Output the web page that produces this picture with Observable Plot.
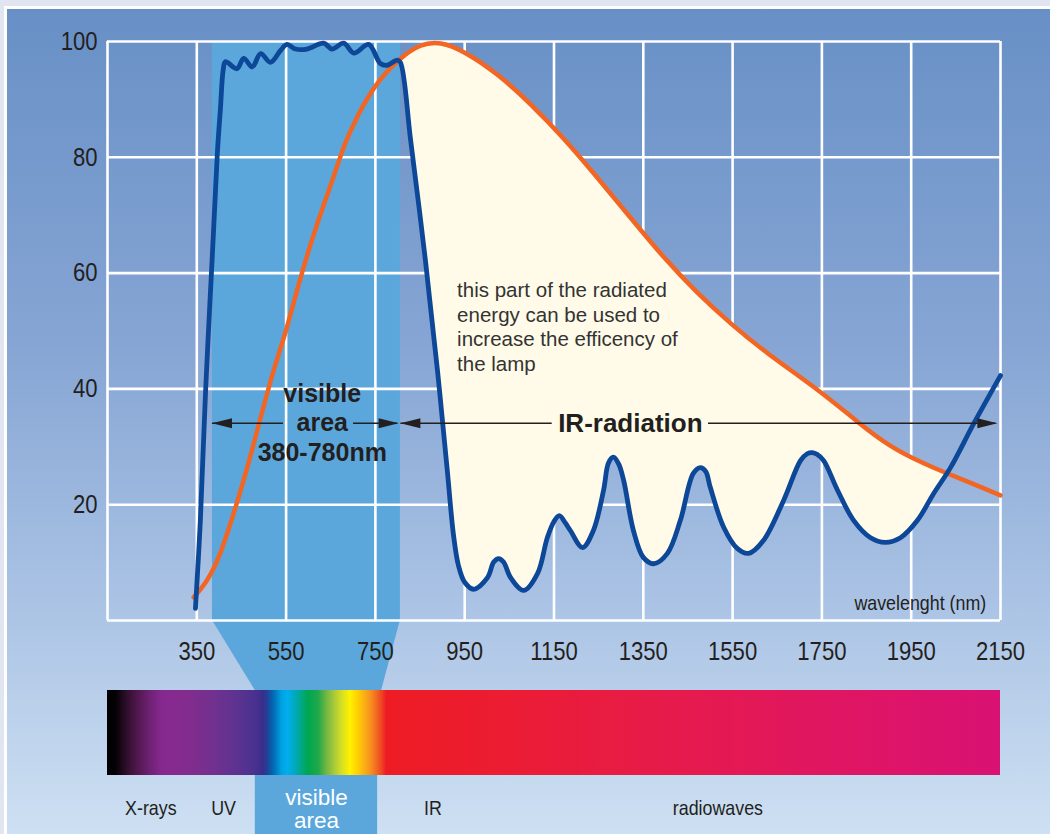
<!DOCTYPE html>
<html>
<head>
<meta charset="utf-8">
<script src="https://cdn.jsdelivr.net/npm/d3@7"></script>
<script src="https://cdn.jsdelivr.net/npm/@observablehq/plot@0.6"></script>
<style>
html,body{margin:0;padding:0;background:#e1e4f1;}
#frame{position:relative;width:1050px;height:834px;overflow:hidden;background:#e1e4f1;}
#panel{position:absolute;left:4px;top:6px;right:-10px;bottom:-10px;border-left:3px solid #fff;border-top:3px solid #fff;
  background:linear-gradient(to bottom,#6890c6 0%,#86a5d4 40%,#a9c2e4 70%,#cfe1f3 100%);}
#chart{position:absolute;left:0;top:0;}
</style>
</head>
<body>
<div id="frame"><div id="panel"></div><div id="chart"></div></div>
<script>
// ---- data ----
const xTicks = [350, 550, 750, 950, 1150, 1350, 1550, 1750, 1950, 2150];
const gridX = [150, 350, 550, 750, 950, 1150, 1350, 1550, 1750, 1950, 2150];
const yTicks = [20, 40, 60, 80, 100];
const gridY = [0, 20, 40, 60, 80, 100];

// blue curve (transmission of the glass / filter)
const blueWavelength = [347, 358, 370, 385, 396, 403, 409, 414, 440, 455, 474, 493, 515, 537, 552, 571, 597, 634, 653, 679, 702, 735, 761, 776, 799, 806,
  829, 862, 889, 911, 925, 936, 950, 970, 1001, 1015, 1026, 1037, 1053, 1082, 1113, 1135, 1150, 1162, 1175, 1187, 1214, 1238, 1261, 1272, 1283, 1295, 1306, 1328, 1350, 1373,
  1404, 1433, 1462, 1478, 1490, 1500, 1530, 1561, 1586, 1619, 1664, 1702, 1717, 1729, 1739, 1754, 1785, 1821, 1859, 1892, 1926, 1964, 2000, 2038, 2090, 2150];
const blueValue = [2.1, 17.3, 40.2, 63.4, 80.7, 88.5, 95.0, 96.5, 95.3, 97.1, 95.6, 97.9, 96.4, 98.4, 99.5, 98.7, 98.7, 99.7, 98.7, 99.7, 98.0, 99.5, 96.2, 95.9, 96.8, 96.4,
  82.9, 62.2, 43.2, 25.9, 14.7, 9.5, 6.6, 5.4, 7.4, 10.1, 10.7, 10.1, 7.4, 5.2, 8.1, 14.3, 17.1, 18.1, 16.9, 15.5, 12.6, 15.5, 22.5, 27.2, 28.2, 27.0, 24.2, 15.5, 10.9, 9.8,
  11.6, 17.3, 25.4, 26.4, 25.7, 23.0, 16.1, 12.4, 11.6, 13.8, 20.7, 27.6, 28.8, 29.0, 28.7, 27.6, 22.5, 17.3, 14.3, 13.5, 14.3, 17.3, 21.9, 26.4, 34.0, 42.3];

// orange curve (radiated energy of the lamp)
const orangeWavelength = [343, 370, 399, 437, 466, 497, 526, 549, 578, 616, 654, 683, 705, 717, 761, 806, 851, 896, 947, 1023, 1097, 1171,
  1247, 1321, 1395, 1471, 1545, 1620, 1754, 1829, 1904, 1978, 2030, 2090, 2150];
const orangeValue = [4.0, 6.4, 10.4, 19.5, 27.1, 36.3, 44.4, 49.6, 58.2, 67.9, 76.0, 82.9, 86.2, 88.3, 93.8, 97.2, 99.6, 100, 98.4, 94.5, 89.3, 83.4,
  76.5, 69.6, 62.7, 56.5, 51.3, 46.5, 39.2, 34.3, 29.9, 27.1, 25.4, 23.6, 21.6];

const visibleBand = [385, 806];
const creamRange = [806, 2030];

// electromagnetic spectrum bar
const spectrumNm = [150, 170, 184, 202, 224, 246, 273, 325, 381, 437, 481, 499, 508, 517, 528, 540, 553, 569, 584, 600, 623, 640, 658, 676, 694, 710, 726, 741, 755, 766, 775, 1030, 1366, 1702, 2150];
const spectrumColor = ["#000000", "#050205", "#1e0a1c", "#3c1239", "#561a55", "#6e2274", "#86298f", "#842b8e", "#74308f", "#5e3391", "#4a3190", "#3a2e8a",
  "#233f96", "#0b5aa8", "#0079c1", "#00a0e0", "#00aeef", "#00a9c4", "#00a98a", "#00a651", "#1fa84a", "#6db544", "#a6c93a", "#d7df23", "#fff200", "#ffd200",
  "#fbb016", "#f78e1e", "#f26522", "#ef4123", "#ed1c24", "#ec1c32", "#e71b48", "#e1175e", "#d91173"];

const bandLabels = ["X-rays", "UV", "IR", "radiowaves"];
const bandLabelNm = [247, 410, 879, 1517];

const paragraph = "this part of the radiated\nenergy can be used to\nincrease the efficency of\nthe lamp";

// ---- build ----
const blue = blueWavelength.map((x, i) => ({x, y: blueValue[i]}));
const orange = orangeWavelength.map((x, i) => ({x, y: orangeValue[i]}));
const cream = [
  ...blue.filter(d => d.x >= creamRange[0] && d.x <= 2000),
  ...orange.filter(d => d.x >= creamRange[0] && d.x <= creamRange[1]).reverse()
];
const labels = bandLabels.map((t, i) => ({t, x: bandLabelNm[i]}));

const bandColor = "#5ba7dc";
const ink = "#231f20";
const narrow = "'Liberation Sans Narrow','Liberation Sans',Arial,sans-serif";
const sans = "'Liberation Sans',Arial,Helvetica,sans-serif";

const barTop = -12.09, barBottom = -26.77, boxBottom = -37;
const funnel = [
  {y: 0, x1: visibleBand[0], x2: visibleBand[1]},
  {y: barTop, x1: 481, x2: 764}
];

const arrowY = 34.07;
const arrowLines = [[385, 544], [701, 800], [807, 1146], [1496, 2140]];
const arrowHeads = [{x: 384, a: 180}, {x: 802, a: 0}, {x: 806, a: 180}, {x: 2143, a: 0}];
const headSymbol = {
  draw(ctx, size) {
    const r = Math.sqrt(size / Math.PI);
    ctx.moveTo(0, 0);
    ctx.lineTo(-2 * r, -0.5 * r);
    ctx.lineTo(-2 * r, 0.5 * r);
    ctx.closePath();
  }
};

function spectrumDefs() {
  const ns = "http://www.w3.org/2000/svg";
  const defs = document.createElementNS(ns, "defs");
  const lg = document.createElementNS(ns, "linearGradient");
  lg.setAttribute("id", "spectrum");
  lg.setAttribute("x1", "0"); lg.setAttribute("x2", "1");
  lg.setAttribute("y1", "0"); lg.setAttribute("y2", "0");
  spectrumNm.forEach((nm, i) => {
    const s = document.createElementNS(ns, "stop");
    s.setAttribute("offset", ((nm - 150) / 2000).toFixed(4));
    s.setAttribute("stop-color", spectrumColor[i]);
    lg.appendChild(s);
  });
  defs.appendChild(lg);
  return defs;
}

const chart = Plot.plot({
  width: 1050,
  height: 834,
  marginLeft: 107,
  marginRight: 50,
  marginTop: 41,
  marginBottom: 214,
  x: {domain: [150, 2150]},
  y: {domain: [0, 100]},
  style: {background: "transparent", color: ink, overflow: "visible"},
  marks: [
    spectrumDefs,
    Plot.rect([0], {x1: visibleBand[0], x2: visibleBand[1], y1: 0, y2: 100, fill: bandColor}),
    Plot.areaX(funnel, {y: "y", x1: "x1", x2: "x2", fill: bandColor}),
    Plot.rect([0], {x1: 481, x2: 755, y1: barBottom, y2: boxBottom, fill: bandColor}),
    Plot.ruleX(gridX, {y1: 0, y2: 100, stroke: "white", strokeWidth: 2.6}),
    Plot.ruleY(gridY, {x1: 150, x2: 2150, stroke: "white", strokeWidth: 2.6}),
    Plot.line(cream, {x: "x", y: "y", curve: "catmull-rom", fill: "#fffbe8", stroke: "none"}),
    Plot.line(orange, {x: "x", y: "y", curve: "basis", stroke: "#f26522", strokeWidth: 4.5}),
    Plot.line(blue, {x: "x", y: "y", curve: "catmull-rom", stroke: "#0d4798", strokeWidth: 4.8, strokeLinejoin: "round"}),
    Plot.ruleY(arrowLines, {x1: d => d[0], x2: d => d[1], y: arrowY, stroke: ink, strokeWidth: 1.3}),
    Plot.dot(arrowHeads, {x: "x", y: arrowY, r: 10, rotate: "a", symbol: headSymbol, fill: ink}),
    Plot.axisX(xTicks, {tickSize: 0, tickPadding: 21, fontSize: 26, fontFamily: narrow, label: null, tickFormat: d => String(d)}),
    Plot.axisY(yTicks, {tickSize: 0, tickPadding: 10, fontSize: 26, fontFamily: narrow, label: null, tickFormat: d => String(d)}),
    Plot.text(["visible\narea\n380-780nm"], {text: d => d, x: 631, y: 27.63, lineAnchor: "bottom", textAnchor: "middle",
      fontSize: 25, fontWeight: "bold", fontFamily: sans, lineHeight: 1.17, fill: ink}),
    Plot.text(["IR-radiation"], {text: d => d, x: 1321, y: 32.5, lineAnchor: "bottom", textAnchor: "middle",
      fontSize: 26, fontWeight: "bold", fontFamily: sans, fill: ink}),
    Plot.text([paragraph], {text: d => d, x: 933, y: 43.1, lineAnchor: "bottom", textAnchor: "start",
      fontSize: 20.5, fontFamily: sans, lineHeight: 1.195, fill: "#333333"}),
    Plot.text(["wavelenght (nm)"], {text: d => d, x: 2118, y: 1.73, lineAnchor: "bottom", textAnchor: "end",
      fontSize: 21, fontFamily: narrow, fill: ink}),
    Plot.rect([0], {x1: 150, x2: 2150, y1: barTop, y2: barBottom, fill: "url(#spectrum)"}),
    Plot.text(labels, {text: "t", x: "x", y: -33.6, lineAnchor: "bottom", textAnchor: "middle",
      fontSize: 21, fontFamily: narrow, fill: ink}),
    Plot.text(["visible\narea"], {text: d => d, x: 618, y: -35.9, lineAnchor: "bottom", textAnchor: "middle",
      fontSize: 22.5, fontFamily: sans, lineHeight: 1.03, fill: "white"})
  ]
});

// condensed look (Helvetica Condensed in the original): squeeze the narrow-family labels horizontally about their anchor.
// Only the x attribute is moved into the transform; y / dy stay as Plot set them.
d3.select(chart).selectAll('[font-family*="Narrow"] text').each(function() {
  const t = d3.select(this);
  const xs = t.attr("x");
  const x = xs != null && isFinite(+xs) ? +xs : 0;
  const tr = t.attr("transform") || "";
  if (xs != null && isFinite(+xs)) t.attr("x", null);
  t.attr("transform", `${tr} translate(${x},0) scale(0.85,1)`);
});

document.getElementById("chart").appendChild(chart);
</script>
</body>
</html>
